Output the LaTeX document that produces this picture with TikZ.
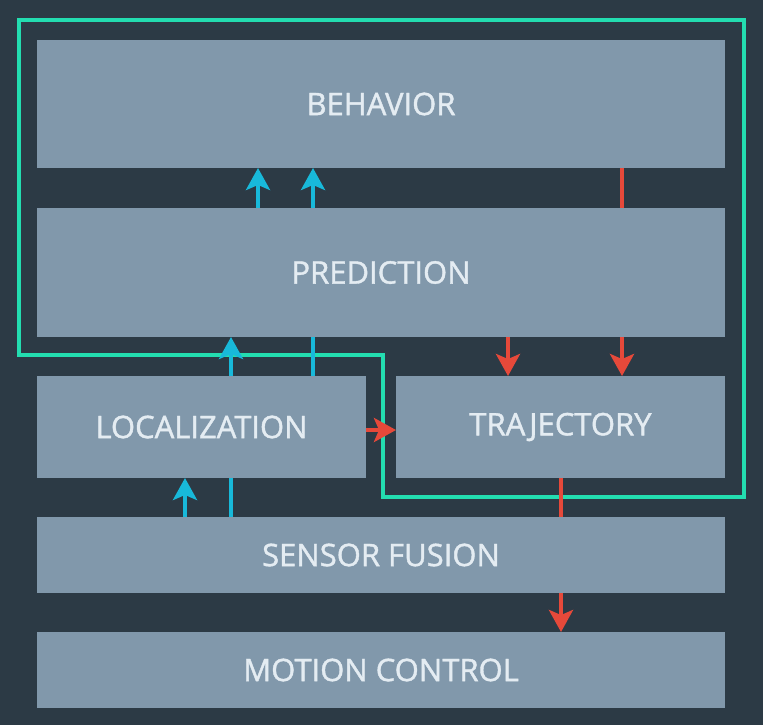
\documentclass[tikz,border=0pt]{standalone}
\usepackage{fontspec}
\setmainfont{Open Sans}
\newfontfamily\blockfont[FakeBold=1.3]{Open Sans}
\usetikzlibrary{arrows.meta}

\definecolor{bg}{HTML}{2C3A45}
\definecolor{boxcol}{HTML}{8198AB}
\definecolor{txtcol}{HTML}{E4ECF2}
\definecolor{grn}{HTML}{23DDB0}
\definecolor{blu}{HTML}{18B9DA}
\definecolor{rd}{HTML}{E6493A}

\begin{document}
\begin{tikzpicture}[x=1pt,y=-1pt,
    block/.style={fill=boxcol, inner sep=0pt, outer sep=0pt, text=txtcol,
        font=\blockfont\fontsize{31}{34}\selectfont},
    bluarr/.style={blu, line width=4pt, -{Stealth[width=24pt,length=22pt,inset=5pt]}},
    rdarr/.style={rd, line width=4pt, -{Stealth[width=24pt,length=22pt,inset=5pt]}},
    bluline/.style={blu, line width=4pt},
    rdline/.style={rd, line width=4pt}]

    %Background
    \fill[bg] (0,0) rectangle (763,725);
    \useasboundingbox (0,0) rectangle (763,725);

    %Blocks
    \node[block, minimum width=688pt, minimum height=128pt] (behavior) at (381,104) {BEHAVIOR};
    \node[block, minimum width=688pt, minimum height=129pt] (prediction) at (381,272.5) {PREDICTION};
    \node[block, minimum width=329pt, minimum height=102pt] (localization) at (201.5,427) {LOCALIZATION};
    \node[block, minimum width=329pt, minimum height=102pt] (trajectory) at (560.5,427) {TRAJECTORY};
    \node[block, minimum width=688pt, minimum height=76pt] (fusion) at (381,555) {SENSOR FUSION};
    \node[block, minimum width=688pt, minimum height=76pt] (control) at (381,670) {MOTION CONTROL};

    %Green outline
    \draw[grn, line width=4pt] (19,20) -- (744,20) -- (744,497) -- (383,497)
        -- (383,355) -- (19,355) -- cycle;

    %Blue connectors
    \foreach \x in {258,313}
    \draw[bluarr] (prediction.north -| \x,0) -- (behavior.south -| \x,0);
    \draw[bluarr] (localization.north -| 231,0) -- (prediction.south -| 231,0);
    \draw[bluline] (localization.north -| 313,0) -- (prediction.south -| 313,0);
    \draw[bluarr] (fusion.north -| 185,0) -- (localization.south -| 185,0);
    \draw[bluline] (fusion.north -| 231,0) -- (localization.south -| 231,0);

    %Red connectors
    \draw[rdline] (behavior.south -| 622,0) -- (prediction.north -| 622,0);
    \foreach \x in {508,622}
    \draw[rdarr] (prediction.south -| \x,0) -- (trajectory.north -| \x,0);
    \draw[rdarr] (localization.east |- 0,430) -- (trajectory.west |- 0,430);
    \draw[rdline] (trajectory.south -| 561,0) -- (fusion.north -| 561,0);
    \draw[rdarr] (fusion.south -| 561,0) -- (control.north -| 561,0);

\end{tikzpicture}
\end{document}
